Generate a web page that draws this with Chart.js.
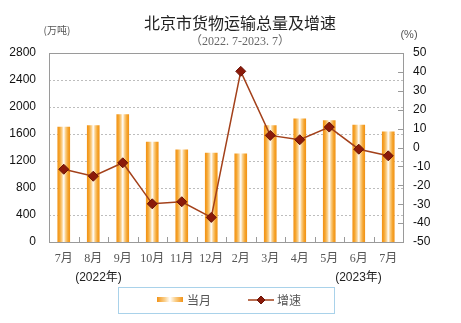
<!DOCTYPE html>
<html><head><meta charset="utf-8">
<script src="https://cdn.jsdelivr.net/npm/chart.js@4.4.1/dist/chart.umd.min.js"></script>
<style>html,body{margin:0;padding:0;background:#fff}#wrap{width:461px;height:323px}</style>
</head><body><div id="wrap"><canvas id="c" width="461" height="323"></canvas></div>
<script>
const categories = ['7月','8月','9月','10月','11月','12月','2月','3月','4月','5月','6月','7月'];
const volume = [1704, 1723, 1887, 1480, 1366, 1317, 1306, 1723, 1823, 1798, 1734, 1634];
const growth = [-11.5, -15.2, -8.1, -29.8, -28.7, -37.0, 40.3, 6.4, 4.1, 10.8, -0.9, -4.4];
const leftTicks = [0, 400, 800, 1200, 1600, 2000, 2400, 2800];
const rightTicks = [-50, -40, -30, -20, -10, 0, 10, 20, 30, 40, 50];
const titleText = '北京市货物运输总量及增速';
const subtitleText = '（2022. 7-2023. 7）';
const yearLabels = ['(2022年)', '(2023年)'];
const legendLabels = ['当月', '增速'];

const BAR_W = 12;
function barGradient(c, x, w) {
  const g = c.createLinearGradient(x - w/2, 0, x + w/2, 0);
  g.addColorStop(0, '#F29418');
  g.addColorStop(0.15, '#F5A52E');
  g.addColorStop(0.35, '#FAD08C');
  g.addColorStop(0.5, '#FFFFFF');
  g.addColorStop(0.65, '#FAD08C');
  g.addColorStop(0.85, '#F5A52E');
  g.addColorStop(1, '#F29418');
  return g;
}

const decor = {
  id: 'decor',
  beforeDatasetsDraw(chart) {
    const c = chart.ctx, a = chart.chartArea;
    const yl = chart.scales.y;
    c.save();
    c.strokeStyle = '#bdbdbd'; c.lineWidth = 1; c.setLineDash([2, 2]);
    leftTicks.forEach(v => {
      const py = Math.round(yl.getPixelForValue(v)) + 0.5;
      c.beginPath(); c.moveTo(a.left, py); c.lineTo(a.right, py); c.stroke();
    });
    c.restore();
  },
  afterDraw(chart) {
    const c = chart.ctx, a = chart.chartArea;
    c.save();
    // frame
    c.strokeStyle = '#9a9a9a'; c.lineWidth = 1;
    c.strokeRect(Math.round(a.left) + 0.5, Math.round(a.top) + 0.5, Math.round(a.right - a.left), Math.round(a.bottom - a.top));
    // x tick marks between categories (inward)
    const xs = chart.scales.x;
    for (let i = 1; i < categories.length; i++) {
      const px = Math.round((xs.getPixelForValue(i - 1) + xs.getPixelForValue(i)) / 2) + 0.5;
      c.beginPath(); c.moveTo(px, a.bottom); c.lineTo(px, a.bottom - 5); c.stroke();
    }
    // right axis inward ticks
    const yr = chart.scales.y1;
    rightTicks.forEach(v => {
      const py = Math.round(yr.getPixelForValue(v)) + 0.5;
      c.beginPath(); c.moveTo(a.right, py); c.lineTo(a.right - 5, py); c.stroke();
    });
    // titles
    c.textAlign = 'center'; c.textBaseline = 'middle';
    c.fillStyle = '#222';
    c.font = '16px "Noto Sans CJK SC"';
    c.fillText(titleText, 240, 23);
    c.fillStyle = '#666';
    c.font = '12px "Liberation Serif", "Noto Sans CJK SC"';
    c.fillText(subtitleText, 240, 42);
    c.fillStyle = '#555';
    c.font = '10px "Noto Sans CJK SC"';
    c.fillText('(万吨)', 57, 30);
    c.font = '11px "Liberation Sans"';
    c.fillText('(%)', 409, 35);
    // year labels
    c.fillStyle = '#222';
    c.font = '12px "Liberation Sans", "Noto Sans CJK SC"';
    c.fillText(yearLabels[0], 98.5, 278);
    c.fillText(yearLabels[1], 358.5, 278);
    // legend box
    c.strokeStyle = '#a9d2ea'; c.lineWidth = 1;
    c.strokeRect(118.5, 287.5, 216, 26);
    // bar swatch
    const g = c.createLinearGradient(157, 0, 183, 0);
    g.addColorStop(0, '#F29418'); g.addColorStop(0.3, '#FAD08C'); g.addColorStop(0.5, '#FFF'); g.addColorStop(0.7, '#FAD08C'); g.addColorStop(1, '#F29418');
    c.fillStyle = g; c.fillRect(157, 297, 26, 5);
    c.fillStyle = '#555';
    c.font = '12px "Noto Sans CJK SC"';
    c.textAlign = 'left';
    c.fillText(legendLabels[0], 187, 300);
    // line swatch
    c.strokeStyle = '#A3401A'; c.lineWidth = 1.5;
    c.beginPath(); c.moveTo(248, 300); c.lineTo(274, 300); c.stroke();
    c.fillStyle = '#8B1A0A'; c.strokeStyle = '#6b1205'; c.lineWidth = 1;
    c.beginPath(); c.moveTo(261, 296); c.lineTo(265, 300); c.lineTo(261, 304); c.lineTo(257, 300); c.closePath(); c.fill(); c.stroke();
    c.fillStyle = '#555';
    c.fillText(legendLabels[1], 277, 300);
    c.restore();
  }
};

new Chart(document.getElementById('c'), {
  data: {
    labels: categories,
    datasets: [
      {
        type: 'line', label: legendLabels[1], data: growth, yAxisID: 'y1', order: 0,
        borderColor: '#A3401A', borderWidth: 1.5, tension: 0,
        pointStyle: 'rectRot', pointRadius: 5, pointHoverRadius: 5,
        pointBackgroundColor: '#8B1A0A', pointBorderColor: '#6b1205', pointBorderWidth: 1
      },
      {
        type: 'bar', label: legendLabels[0], data: volume, yAxisID: 'y', order: 1,
        barThickness: BAR_W, borderWidth: 0,
        backgroundColor: (ctx) => {
          const chart = ctx.chart;
          if (!chart.chartArea || ctx.dataIndex === undefined || !chart.scales.x) return '#F5A623';
          const x = chart.scales.x.getPixelForValue(ctx.dataIndex);
          return barGradient(chart.ctx, x, BAR_W);
        }
      }
    ]
  },
  options: {
    responsive: false, animation: false, devicePixelRatio: 1,
    layout: { padding: { top: 53, left: 0, right: 0, bottom: 0 } },
    plugins: { legend: { display: false }, tooltip: { enabled: false }, title: { display: false } },
    scales: {
      x: {
        offset: true,
        grid: { display: false },
        border: { display: false },
        ticks: { color: '#555', padding: 2, maxRotation: 0, autoSkip: false,
          font: { size: 12, family: '"Liberation Serif", "Noto Sans CJK SC"' } },
        afterFit(s) { s.height = 81; }
      },
      y: {
        position: 'left', min: 0, max: 2800,
        afterBuildTicks(s) { s.ticks = leftTicks.map(v => ({ value: v })); },
        grid: { display: false, drawTicks: false },
        border: { display: false },
        ticks: { color: '#111', padding: 13, font: { size: 12, family: '"Liberation Sans"' },
          callback: (v) => String(v) },
        afterFit(s) { s.width = 49; }
      },
      y1: {
        position: 'right', min: -50, max: 50,
        afterBuildTicks(s) { s.ticks = rightTicks.map(v => ({ value: v })); },
        grid: { drawOnChartArea: false, drawTicks: false },
        border: { display: false },
        ticks: { color: '#111', padding: 10, font: { size: 12, family: '"Liberation Sans"' },
          callback: (v) => String(v) },
        afterFit(s) { s.width = 58; }
      }
    }
  },
  plugins: [decor]
});
</script>
</body></html>
